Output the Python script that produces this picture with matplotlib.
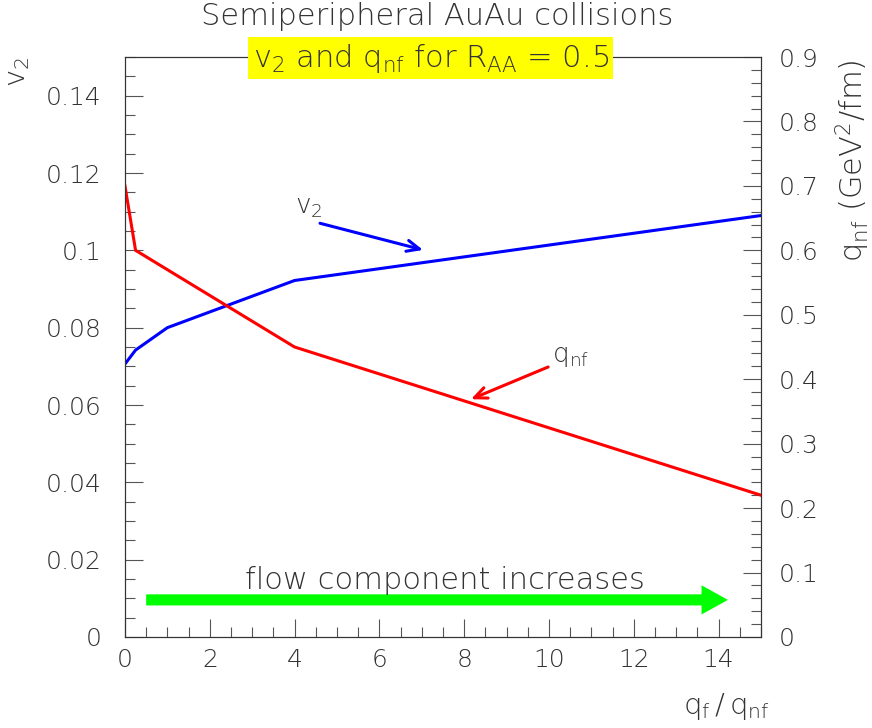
import matplotlib.pyplot as plt
from matplotlib.ticker import MultipleLocator

plt.rcParams['font.family'] = 'DejaVu Sans'
plt.rcParams['font.weight'] = 'light'
plt.rcParams['mathtext.default'] = 'regular'

# x = q_f / q_nf
ratio = [0, 0.25, 1, 4, 15]
v2 = [0.0706, 0.0742, 0.080, 0.0922, 0.109]
qnf = [0.70, 0.60, 0.57, 0.45, 0.22]

txt = '#333333'

fig = plt.figure(figsize=(8.72, 7.28), dpi=100)
ax = fig.add_axes([0.1433, 0.125, 0.7294, 0.7967])
ax2 = ax.twinx()

ax.plot(ratio, v2, color='#0000ff', lw=2.2, solid_joinstyle='miter')
ax2.plot(ratio, qnf, color='#ff0000', lw=2.2, solid_joinstyle='miter')

ax.set_xlim(0, 15)
ax.set_ylim(0, 0.15)
ax2.set_ylim(0, 0.9)

ax.xaxis.set_major_locator(MultipleLocator(2))
ax.xaxis.set_minor_locator(MultipleLocator(0.5))
ax.yaxis.set_major_locator(MultipleLocator(0.02))
ax.yaxis.set_minor_locator(MultipleLocator(0.005))
ax2.yaxis.set_major_locator(MultipleLocator(0.1))
ax2.yaxis.set_minor_locator(MultipleLocator(0.02))

ax.set_yticks([0, 0.02, 0.04, 0.06, 0.08, 0.1, 0.12, 0.14])
ax.set_yticklabels(['0', '0.02', '0.04', '0.06', '0.08', '0.1', '0.12', '0.14'])
ax2.set_yticks([0, 0.1, 0.2, 0.3, 0.4, 0.5, 0.6, 0.7, 0.8, 0.9])
ax2.set_yticklabels(['0', '0.1', '0.2', '0.3', '0.4', '0.5', '0.6', '0.7', '0.8', '0.9'])

ax.tick_params(axis='both', which='both', direction='in', top=False, right=False,
               color='#555555', labelcolor=txt, labelsize=18, width=0.8)
ax.tick_params(axis='y', which='major', length=13, pad=17)
ax.tick_params(axis='y', which='minor', length=7)
ax.tick_params(axis='x', which='major', length=13, pad=8)
ax.tick_params(axis='x', which='minor', length=7)
ax2.tick_params(axis='y', which='both', direction='in', color='#555555',
                labelcolor=txt, labelsize=18, width=0.8, pad=13)
ax2.tick_params(axis='y', which='major', length=13)
ax2.tick_params(axis='y', which='minor', length=7)

for a in (ax, ax2):
    for s in a.spines.values():
        s.set_color('#333333')
        s.set_linewidth(0.8)

# axis titles
fig.text(0.021, 0.922, '$v_2$', rotation=90, ha='center', va='top',
         fontsize=21, color=txt)
fig.text(0.978, 0.918, '$q_{nf}$ (GeV$^2$/fm)', rotation=90, ha='center', va='top',
         fontsize=22, color=txt)
fig.text(0.883, 0.008, r'$q_f\,/\,q_{nf}$', ha='right', va='bottom',
         fontsize=21, color=txt)

# titles
fig.text(0.501, 0.978, 'Semiperipheral AuAu collisions', ha='center', va='center',
         fontsize=22, color=txt)
fig.text(0.494, 0.920, '$v_2$ and $q_{nf}$ for $R_{AA}$ = 0.5', ha='center', va='center',
         fontsize=22, color=txt,
         bbox=dict(facecolor='#ffff00', edgecolor='none', pad=3))

# curve labels with arrows
ax.annotate('', xy=(7.03, 0.1001), xytext=(4.6, 0.107),
            arrowprops=dict(arrowstyle='->,head_length=0.9,head_width=0.4',
                            color='#0000ff', lw=2.2, shrinkA=0, shrinkB=0))
ax.text(4.34, 0.111, '$v_2$', ha='center', va='center', fontsize=19, color=txt)

ax2.annotate('', xy=(8.16, 0.369), xytext=(9.98, 0.419),
             arrowprops=dict(arrowstyle='->,head_length=0.9,head_width=0.4',
                             color='#ff0000', lw=2.2, shrinkA=0, shrinkB=0))
ax2.text(10.07, 0.436, '$q_{nf}$', ha='left', va='center', fontsize=19, color=txt)

# flow arrow
ax.annotate('', xy=(14.22, 0.0096), xytext=(0.5, 0.0096),
            arrowprops=dict(arrowstyle='simple,head_length=19,head_width=21,tail_width=8',
                            mutation_scale=1, color='#00ff00', lw=0,
                            shrinkA=0, shrinkB=0))
ax.text(7.55, 0.0108, 'flow component increases', ha='center', va='bottom',
        fontsize=22, color=txt)

fig.savefig('out.png', dpi=100)
